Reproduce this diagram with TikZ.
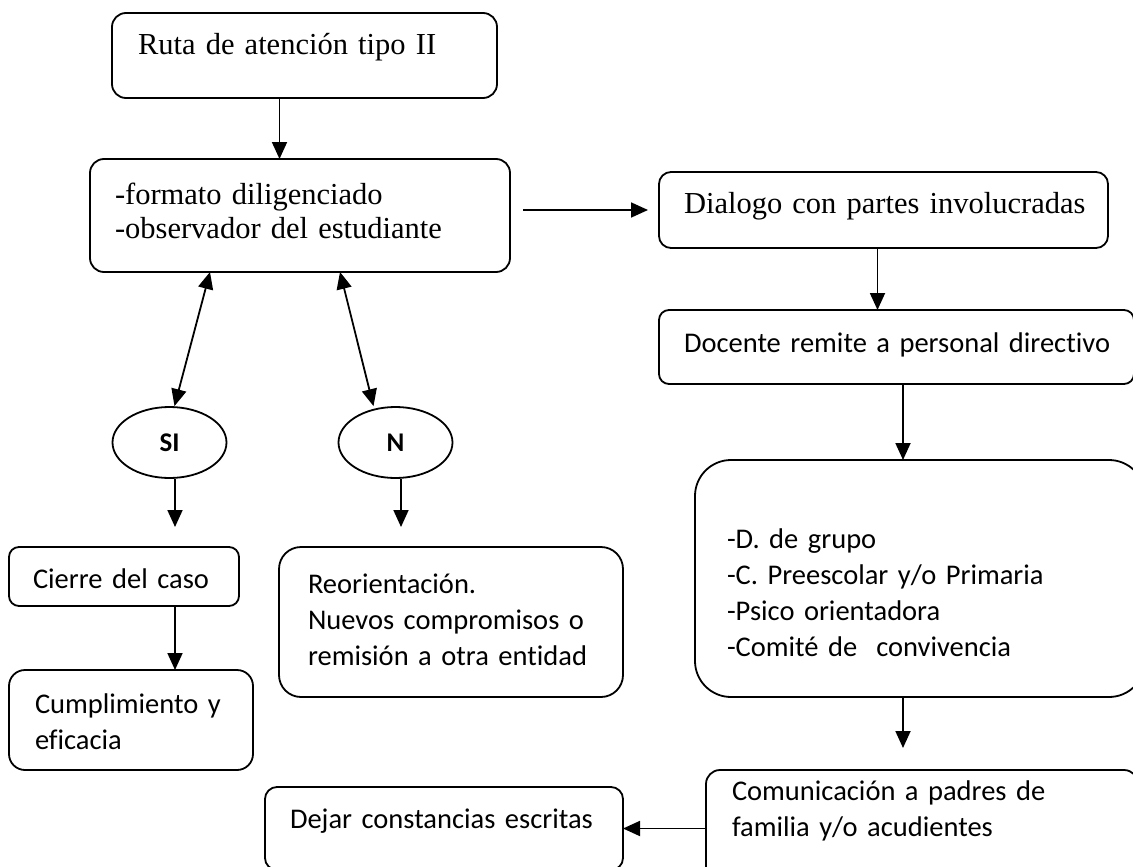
\documentclass[tikz,border=0pt]{standalone}
\usepackage{fontspec}
\setmainfont{Liberation Serif}
\newfontfamily\calibri[Ligatures=NoCommon]{Carlito}
\usetikzlibrary{shapes.geometric,arrows.meta}

\tikzset{
  caja/.style={draw, line width=1.8pt, rounded corners=14pt, anchor=north west,
    inner xsep=25pt, inner ysep=0pt, outer sep=0pt, align=left},
  serif/.style={font=\fontsize{30.5}{34}\selectfont},
  sans/.style={font=\calibri\fontsize{28.5}{36}\selectfont},
  elipse/.style={draw, ellipse, line width=1.8pt, minimum width=114pt, minimum height=71pt,
    inner sep=0pt, font=\calibri\bfseries\fontsize{27}{30}\selectfont},
  flecha/.style={-{Triangle[length=17pt,width=15pt]}, line width=1.8pt},
  flecha2/.style={{Triangle[length=17pt,width=15pt]}-{Triangle[length=17pt,width=15pt]}, line width=1.8pt}
}

\begin{document}
\begin{tikzpicture}[x=1pt,y=-1pt]
\useasboundingbox (0,0) rectangle (1133,867);
\clip (0,0) rectangle (1133,867);

% free ends of the arrows
\coordinate (fsi) at (175,527);
\coordinate (fno) at (401,527);
\coordinate (fd) at (903,748);

% left column
\node[caja, serif, inner xsep=26pt, text width=333pt, text height=42pt, text depth=43pt] (ruta) at (112,13) {\mbox{Ruta de atención tipo II}};
\node[caja, serif, text width=370pt, text height=45pt, text depth=68pt] (formato) at (90,159) {\mbox{-formato diligenciado}\\\mbox{-observador del estudiante}};

% right column
\node[caja, serif, rounded corners=12pt, text width=399pt, text height=41pt, text depth=35pt] (dialogo) at (659,172) {\mbox{Dialogo con partes involucradas}};
\node[caja, sans, rounded corners=10pt, text width=425pt, text height=42pt, text depth=32pt] (docente) at (659,310) {\mbox{Docente remite a personal directivo}};
\node[caja, sans, rounded corners=36pt, inner xsep=32pt, text width=386pt, text height=88pt, text depth=149pt] (dbox) at (695,460) {-D. de grupo\\-C. Preescolar y/o Primaria\\-Psico orientadora\\-Comité de~ convivencia};
\node[caja, sans, inner xsep=26pt, text width=380pt, text height=30pt, text depth=98pt] (comunica) at (706,770) {\mbox{Comunicación a padres de}\\\mbox{familia y/o acudientes}};

% SI / N
\node[elipse] (si) at (169.5,442.5) {SI};
\node[elipse] (no) at (395.5,442.5) {N};

% lower boxes
\node[caja, sans, rounded corners=10pt, inner xsep=24pt, text width=182pt, text height=41pt, text depth=18pt] (cierre) at (9,547) {\mbox{Cierre del caso}};
\node[caja, sans, rounded corners=16pt, inner xsep=26pt, text width=192pt, text height=43pt, text depth=57pt] (cumple) at (9,670) {\mbox{Cumplimiento y}\\eficacia};
\node[caja, sans, rounded corners=22pt, inner xsep=29pt, text width=286pt, text height=46pt, text depth=104pt] (reori) at (279,547) {Reorientación.\\\mbox{Nuevos compromisos o}\\\mbox{remisión a otra entidad}};
\node[caja, sans, rounded corners=12pt, text width=308pt, text height=41pt, text depth=42pt] (dejar) at (265,787) {\mbox{Dejar constancias escritas}};

% arrows
\draw[flecha] ([xshift=-25pt]ruta.south) -- ([xshift=-25pt]ruta.south |- formato.north);
\draw[flecha, shorten <=13pt, shorten >=11pt] (formato.east |- dialogo.west) -- (dialogo.west);
\draw[flecha] ([xshift=-6pt]dialogo.south) -- ([xshift=-6pt]dialogo.south |- docente.north);
\draw[flecha] (docente.south -| fd) -- (dbox.north -| fd);
\draw[flecha] (dbox.south -| fd) -- (fd);
\draw[flecha] (comunica.west |- dejar.east) -- (dejar.east);

\draw[flecha2] ([xshift=-90pt]formato.south) -- ([xshift=5pt]si.north);
\draw[flecha2] ([xshift=40pt]formato.south) -- ([xshift=-22pt]no.north);
\draw[flecha] (si.south -| fsi) -- (fsi);
\draw[flecha] (no.south -| fno) -- (fno);
\draw[flecha] (cierre.south -| fsi) -- (cumple.north -| fsi);

\end{tikzpicture}
\end{document}
